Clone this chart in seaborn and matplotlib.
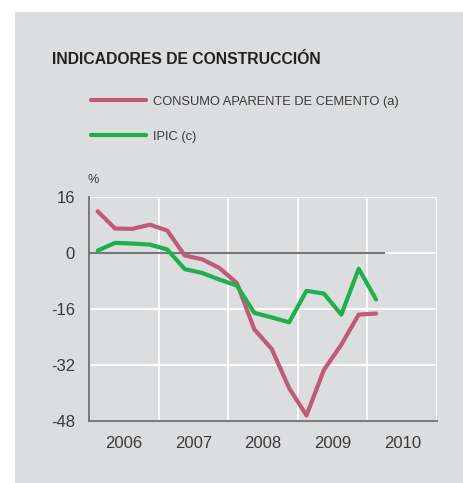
import numpy as np
import pandas as pd
import matplotlib.pyplot as plt
import seaborn as sns
from matplotlib.patches import Rectangle

# === Data (quarterly, % change) ===
years = [2006, 2007, 2008, 2009, 2010]
quarters = ["2006-T1", "2006-T2", "2006-T3", "2006-T4",
            "2007-T1", "2007-T2", "2007-T3", "2007-T4",
            "2008-T1", "2008-T2", "2008-T3", "2008-T4",
            "2009-T1", "2009-T2", "2009-T3", "2009-T4",
            "2010-T1"]
cemento = [11.9, 7.0, 6.9, 8.1, 6.4, -0.7, -1.8, -4.3, -8.6,
           -21.8, -27.4, -38.6, -46.4, -33.4, -26.2, -17.6, -17.3]
ipic = [0.7, 2.9, 2.7, 2.4, 1.0, -4.6, -5.7, -7.6, -9.3,
        -17.1, -18.4, -19.8, -10.8, -11.6, -17.6, -4.5, -13.3]
yticks = [16, 0, -16, -32, -48]

LABEL_A = "CONSUMO APARENTE DE CEMENTO (a)"
LABEL_C = "IPIC (c)"
BG = "#dcdddf"
TXT = "#3a3a3a"

# quarter midpoints as decimal years
xpos = [int(q[:4]) + (int(q[-1]) - 0.5) / 4 for q in quarters]
df = pd.concat([
    pd.DataFrame({"x": xpos, "valor": cemento, "serie": LABEL_A}),
    pd.DataFrame({"x": xpos, "valor": ipic, "serie": LABEL_C}),
])

sns.set_theme(style="darkgrid", rc={
    "axes.facecolor": BG,
    "grid.color": "white",
    "grid.linewidth": 1.3,
    "axes.edgecolor": "#707070",
})
plt.rcParams["font.family"] = ["Liberation Sans", "DejaVu Sans"]
plt.rcParams["axes.unicode_minus"] = False

fig = plt.figure(figsize=(4.64, 4.83), dpi=100, facecolor="white")
fig.patches.append(Rectangle((15 / 464, 0), 1, 1 - 12 / 483, transform=fig.transFigure,
                             facecolor=BG, edgecolor="none", zorder=-10))
ax = fig.add_axes([89 / 464, 1 - 421 / 483, 348 / 464, 224 / 483])

sns.lineplot(data=df, x="x", y="valor", hue="serie", ax=ax,
             palette={LABEL_A: "#c05a75", LABEL_C: "#1db04b"},
             linewidth=3, zorder=3)
ax.hlines(0, 2006, 2010.25, color="#777777", linewidth=1.5, zorder=2)

ax.set_xlim(2006, 2011)
ax.set_ylim(-48, 16)
ax.set_yticks(yticks)
ax.set_xticks([y for y in years] + [2011])
ax.set_xticks([y + 0.5 for y in years], minor=True)
ax.set_xticklabels([])
ax.set_xticklabels([str(y) for y in years], minor=True)
ax.tick_params(axis="x", which="both", length=0, pad=11, labelsize=12, labelcolor=TXT)
ax.tick_params(axis="y", length=0, pad=10, labelsize=12, labelcolor=TXT)
ax.grid(True, which="major")
ax.set_xlabel("")
ax.set_ylabel("")
for side in ["top", "right"]:
    ax.spines[side].set_visible(False)
for side in ["left", "bottom"]:
    ax.spines[side].set_visible(True)
    ax.spines[side].set_linewidth(1.3)

sns.move_legend(ax, "upper left", bbox_to_anchor=(79 / 464, 1 - 84 / 483),
                bbox_transform=fig.transFigure, frameon=False, title=None,
                fontsize=9.3, handlelength=4.3, handletextpad=0.55, labelspacing=1.8,
                labelcolor=TXT)

fig.text(52 / 464, 1 - 60 / 483, "INDICADORES DE CONSTRUCCIÓN", fontsize=11.3,
         fontweight="bold", color="#222222", va="center")
fig.text(88 / 464, 1 - 180 / 483, "%", fontsize=9, color=TXT, va="center")

fig.savefig("out.png", dpi=100, facecolor="white")
